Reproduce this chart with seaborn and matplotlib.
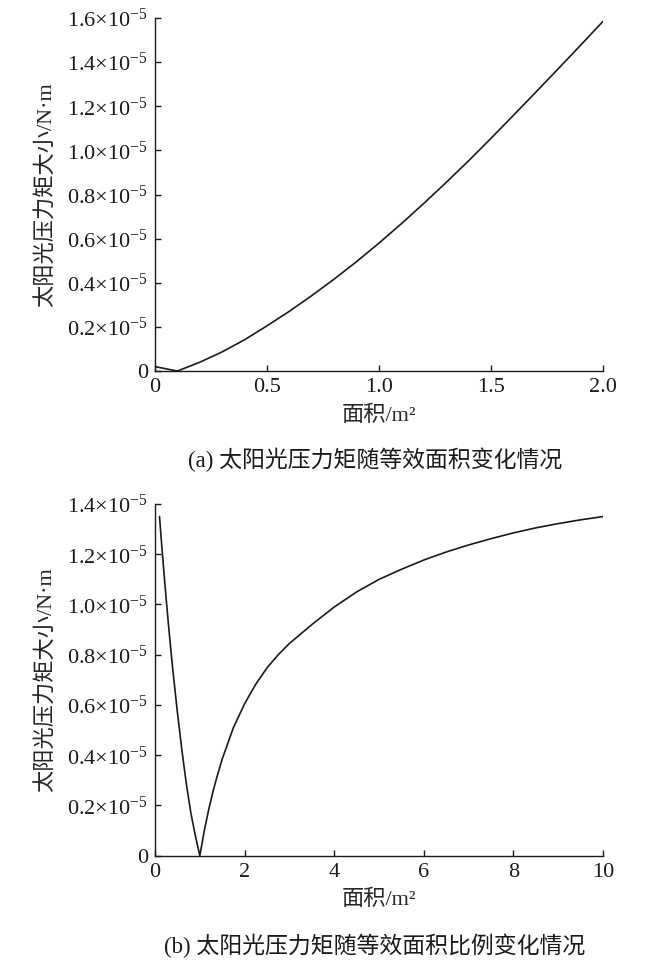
import numpy as np
import pandas as pd
import matplotlib
matplotlib.use("Agg")
import matplotlib.pyplot as plt
from matplotlib.ticker import FuncFormatter, FixedLocator
import seaborn as sns

# ---- data (torque in units of 1e-5 N·m) ----
area_a = [0.0, 0.1, 0.2, 0.3, 0.4, 0.5, 0.6, 0.7, 0.8, 0.9, 1.0,
          1.1, 1.2, 1.3, 1.4, 1.5, 1.6, 1.7, 1.8, 1.9, 2.0]
torque_a = [0.020, 0.000, 0.040, 0.087, 0.142, 0.205, 0.271, 0.342, 0.417,
            0.496, 0.580, 0.668, 0.760, 0.855, 0.953, 1.055, 1.159, 1.264,
            1.370, 1.477, 1.585]

ratio_b = [0.1, 0.15, 0.2, 0.25, 0.3, 0.35, 0.4, 0.5, 0.6, 0.7, 0.8, 0.9, 1.0,
           1.1, 1.2, 1.3, 1.4, 1.5, 1.75, 2.0, 2.25, 2.5, 2.75, 3.0, 3.5,
           4.0, 4.5, 5.0, 5.5, 6.0, 6.5, 7.0, 7.5, 8.0, 8.5, 9.0, 9.5, 10.0]
torque_b = [1.35, 1.235, 1.125, 1.02, 0.92, 0.825, 0.735, 0.57, 0.42, 0.285,
            0.17, 0.08, 0.00,
            0.10, 0.185, 0.26, 0.325, 0.385, 0.51, 0.605, 0.683, 0.748, 0.80,
            0.845, 0.92, 0.99, 1.05, 1.10, 1.14, 1.177, 1.209, 1.237, 1.262,
            1.285, 1.305, 1.322, 1.337, 1.35]

xticks_a = [0, 0.5, 1.0, 1.5, 2.0]
xticklabels_a = ["0", "0.5", "1.0", "1.5", "2.0"]
yticks_a = [0, 0.2, 0.4, 0.6, 0.8, 1.0, 1.2, 1.4, 1.6]
xticks_b = [0, 2, 4, 6, 8, 10]
xticklabels_b = ["0", "2", "4", "6", "8", "10"]
yticks_b = [0, 0.2, 0.4, 0.6, 0.8, 1.0, 1.2, 1.4]

ylabel = "太阳光压力矩大小/N·m"
xlabel = "面积/m²"
caption_a = "(a) 太阳光压力矩随等效面积变化情况"
caption_b = "(b) 太阳光压力矩随等效面积比例变化情况"

SCALE = 1e-5

sns.set_style("ticks")
plt.rcParams["font.family"] = ["Liberation Serif", "Noto Sans CJK SC", "DejaVu Sans"]
plt.rcParams["mathtext.fontset"] = "custom"
plt.rcParams["mathtext.rm"] = "Liberation Serif"
plt.rcParams["mathtext.it"] = "Liberation Serif:italic"
plt.rcParams["axes.unicode_minus"] = True

fig = plt.figure(figsize=(6.5, 9.6), dpi=100)
ax1 = fig.add_axes([0.2385, 0.6135, 0.6892, 0.3677])
ax2 = fig.add_axes([0.2385, 0.1086, 0.6892, 0.3664])

df_a = pd.DataFrame({"x": area_a, "y": np.array(torque_a) * SCALE})
df_b = pd.DataFrame({"x": ratio_b, "y": np.array(torque_b) * SCALE})

sns.lineplot(data=df_a, x="x", y="y", ax=ax1, color="#1a1a1a", linewidth=1.2)
sns.lineplot(data=df_b, x="x", y="y", ax=ax2, color="#1a1a1a", linewidth=1.2)


def yfmt(v, pos):
    m = v / SCALE
    if abs(m) < 1e-9:
        return "0"
    return f"{m:.1f}×10$^{{-5}}$"


for ax, xt, xtl, yt, xmax, ymax in [
    (ax1, xticks_a, xticklabels_a, yticks_a, 2.0, 1.6),
    (ax2, xticks_b, xticklabels_b, yticks_b, 10.0, 1.4),
]:
    ax.set_xlim(0, xmax)
    ax.set_ylim(0, ymax * SCALE)
    ax.xaxis.set_major_locator(FixedLocator(xt))
    ax.set_xticklabels(xtl)
    ax.yaxis.set_major_locator(FixedLocator([v * SCALE for v in yt]))
    ax.yaxis.set_major_formatter(FuncFormatter(yfmt))
    for s in ["top", "right"]:
        ax.spines[s].set_visible(False)
    for s in ["left", "bottom"]:
        ax.spines[s].set_linewidth(1.0)
        ax.spines[s].set_color("#1a1a1a")
    ax.tick_params(axis="both", direction="in", length=4, width=1.0,
                   colors="#1a1a1a", labelsize=16)
    ax.tick_params(axis="x", pad=5)
    ax.tick_params(axis="y", pad=5)
    ax.set_xlabel(xlabel, fontsize=16, labelpad=6)
    ax.set_ylabel(ylabel, fontsize=16)
    ax.yaxis.set_label_coords(-0.222, 0.5)
    ax.grid(False)

fig.text(0.577, 1 - 460 / 960, caption_a, ha="center", va="center", fontsize=16.5,
         color="#1a1a1a")
fig.text(0.577, 1 - 946 / 960, caption_b, ha="center", va="center", fontsize=16.5,
         color="#1a1a1a")

fig.savefig("out.png", dpi=100)
